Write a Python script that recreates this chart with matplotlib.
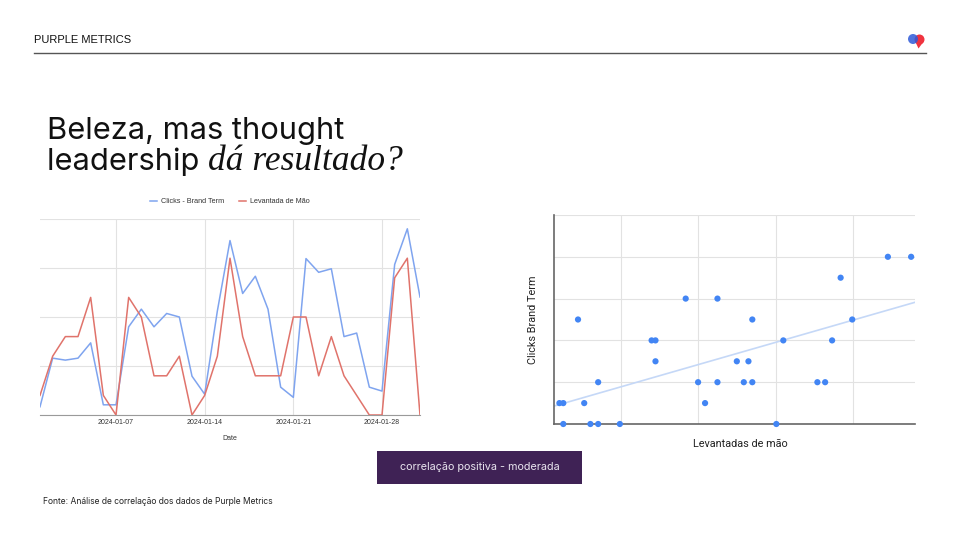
import matplotlib.pyplot as plt
import matplotlib.dates as mdates
from matplotlib.patches import Rectangle, Ellipse, Polygon
import numpy as np
import pandas as pd

# daily series, Jan 2024
dates = pd.date_range('2024-01-01', '2024-01-31')
clicks_brand_term = [2.1, 14.5, 14.0, 14.5, 18.4, 2.6, 2.6, 22.5, 27.0, 22.5,
                     25.9, 25.0, 9.9, 5.3, 26.5, 44.5, 31.0, 35.4, 27.0, 7.1,
                     4.5, 39.9, 36.4, 37.3, 20.0, 20.9, 7.1, 6.1, 38.4, 47.5,
                     30.1]
levantadas_de_mao = [1, 3, 4, 4, 6, 1, 0, 6, 5, 2, 2, 3, 0, 1, 3, 8, 4, 2, 2, 2,
                     5, 5, 2, 4, 2, 1, 0, 0, 7, 8, 0]
date_ticks = ['2024-01-07', '2024-01-14', '2024-01-21', '2024-01-28']

W, H = 960, 540
SANS = ['Inter', 'DejaVu Sans']
CHART = ['Liberation Sans', 'DejaVu Sans']


def px(x, y):
    return x / W, 1 - y / H


def box(x0, y0, x1, y1):
    return [x0 / W, 1 - y1 / H, (x1 - x0) / W, (y1 - y0) / H]


fig = plt.figure(figsize=(9.6, 5.4), dpi=100)
fig.patch.set_facecolor('white')

# header
fig.text(*px(34, 40), 'PURPLE METRICS', fontsize=8, family=['Liberation Sans Narrow', 'Liberation Sans'],
         color='#111111', va='center', ha='left')
fig.add_artist(plt.Line2D([34 / W, 926 / W], [1 - 53 / H] * 2, color='#555555', lw=1.0))

# logo: two overlapping lobes
fig.add_artist(Polygon([px(915, 41), px(924, 41), px(918.5, 48.5)], closed=True,
                       transform=fig.transFigure, facecolor='#f0333f', edgecolor='none'))
fig.add_artist(Ellipse(px(919.5, 39.5), 10 / W, 10 / H, transform=fig.transFigure,
                       facecolor='#f0333f', edgecolor='none'))
fig.add_artist(Ellipse(px(913, 39), 10 / W, 10 / H, transform=fig.transFigure,
                       facecolor='#2f5bd9', edgecolor='none', alpha=0.85))

# title
fig.text(*px(47, 139), 'Beleza, mas thought', fontsize=22.2, family=SANS, color='#111111',
         va='baseline', ha='left')
t2 = fig.text(*px(47, 170), 'leadership ', fontsize=22.2, family=SANS, color='#111111',
              va='baseline', ha='left')
fig.canvas.draw()
bb = t2.get_window_extent()
fig.text(bb.x1 / W, 1 - 170 / H, 'dá resultado?', fontsize=25.5, family=['Liberation Serif'],
         style='italic', color='#111111', va='baseline', ha='left')

# line chart, two value axes (clicks 0-50, levantadas 0-10)
ax = fig.add_axes(box(40, 219, 420, 415))
ax2 = ax.twinx()
l1, = ax.plot(dates, clicks_brand_term, color='#7fa4ef', lw=1.1, label='Clicks - Brand Term')
l2, = ax2.plot(dates, levantadas_de_mao, color='#e0736b', lw=1.1, label='Levantada de Mão')
ax.set_ylim(0, 50)
ax2.set_ylim(0, 10)
ax.set_xlim(dates[0], dates[-1])
ax.set_yticks([0, 12.5, 25, 37.5, 50])
ax.set_xticks(pd.to_datetime(date_ticks))
ax.xaxis.set_major_formatter(mdates.DateFormatter('%Y-%m-%d'))
ax.grid(True, color='#e2e2e2', lw=0.8)
ax.tick_params(axis='x', length=0, labelsize=5.0, labelcolor='#333333', pad=3)
ax.tick_params(axis='y', length=0, labelleft=False)
ax2.tick_params(axis='y', length=0, labelright=False)
for a in (ax, ax2):
    for s in ('top', 'left', 'right'):
        a.spines[s].set_visible(False)
ax.spines['bottom'].set_color('#9a9a9a')
ax.spines['bottom'].set_linewidth(0.8)
ax2.spines['bottom'].set_visible(False)
for lab in ax.get_xticklabels():
    lab.set_family(CHART)
fig.legend(handles=[l1, l2], loc='center', bbox_to_anchor=px(230, 201.5), ncol=2,
           frameon=False, prop={'family': CHART, 'size': 5.2}, handlelength=1.0,
           handletextpad=0.6, columnspacing=2.0, labelcolor='#333333')
fig.text(*px(230, 439), 'Date', fontsize=5.0, family=CHART, color='#333333', ha='center', va='center')

# scatter
ax3 = fig.add_axes(box(554, 215, 915, 424))
ax3.scatter(clicks_brand_term, levantadas_de_mao, s=20, color='#4285f4', zorder=3,
            clip_on=False, edgecolors='none')
x_min, x_max = 1.4, 48.0
slope, icpt = np.polyfit(clicks_brand_term, levantadas_de_mao, 1)
ax3.plot([x_min, x_max], [icpt + slope * x_min, icpt + slope * x_max], color='#c5d8f7',
         lw=1.2, zorder=2)
ax3.set_xlim(x_min, x_max)
ax3.set_ylim(0, 10)
ax3.set_xticks([10, 20, 30, 40])
ax3.set_yticks([2, 4, 6, 8, 10])
ax3.grid(True, color='#e2e2e2', lw=0.8)
ax3.tick_params(length=0, labelleft=False, labelbottom=False)
for s in ('top', 'right'):
    ax3.spines[s].set_visible(False)
for s in ('left', 'bottom'):
    ax3.spines[s].set_color('#666666')
    ax3.spines[s].set_linewidth(1.2)
fig.text(*px(533, 320), 'Clicks Brand Term', fontsize=7.8, family=['Roboto', 'DejaVu Sans'],
         color='#222222', rotation=90, ha='center', va='center')
fig.text(*px(740, 444), 'Levantadas de mão', fontsize=7.8, family=['Roboto', 'DejaVu Sans'],
         color='#222222', ha='center', va='center')

# callout box
fig.add_artist(Rectangle(px(377, 484), 205 / W, 33 / H, transform=fig.transFigure,
                         facecolor='#3f2255', edgecolor='none'))
fig.text(*px(479.5, 467.5), 'correlação positiva - moderada', fontsize=7.8, family=SANS,
         color='#e8e4ee', ha='center', va='center')

# footer
fig.text(*px(43, 502), 'Fonte: Análise de correlação dos dados de Purple Metrics', fontsize=6.1,
         family=SANS, color='#222222', ha='left', va='center')

fig.savefig('out.png', dpi=100, facecolor='white')
